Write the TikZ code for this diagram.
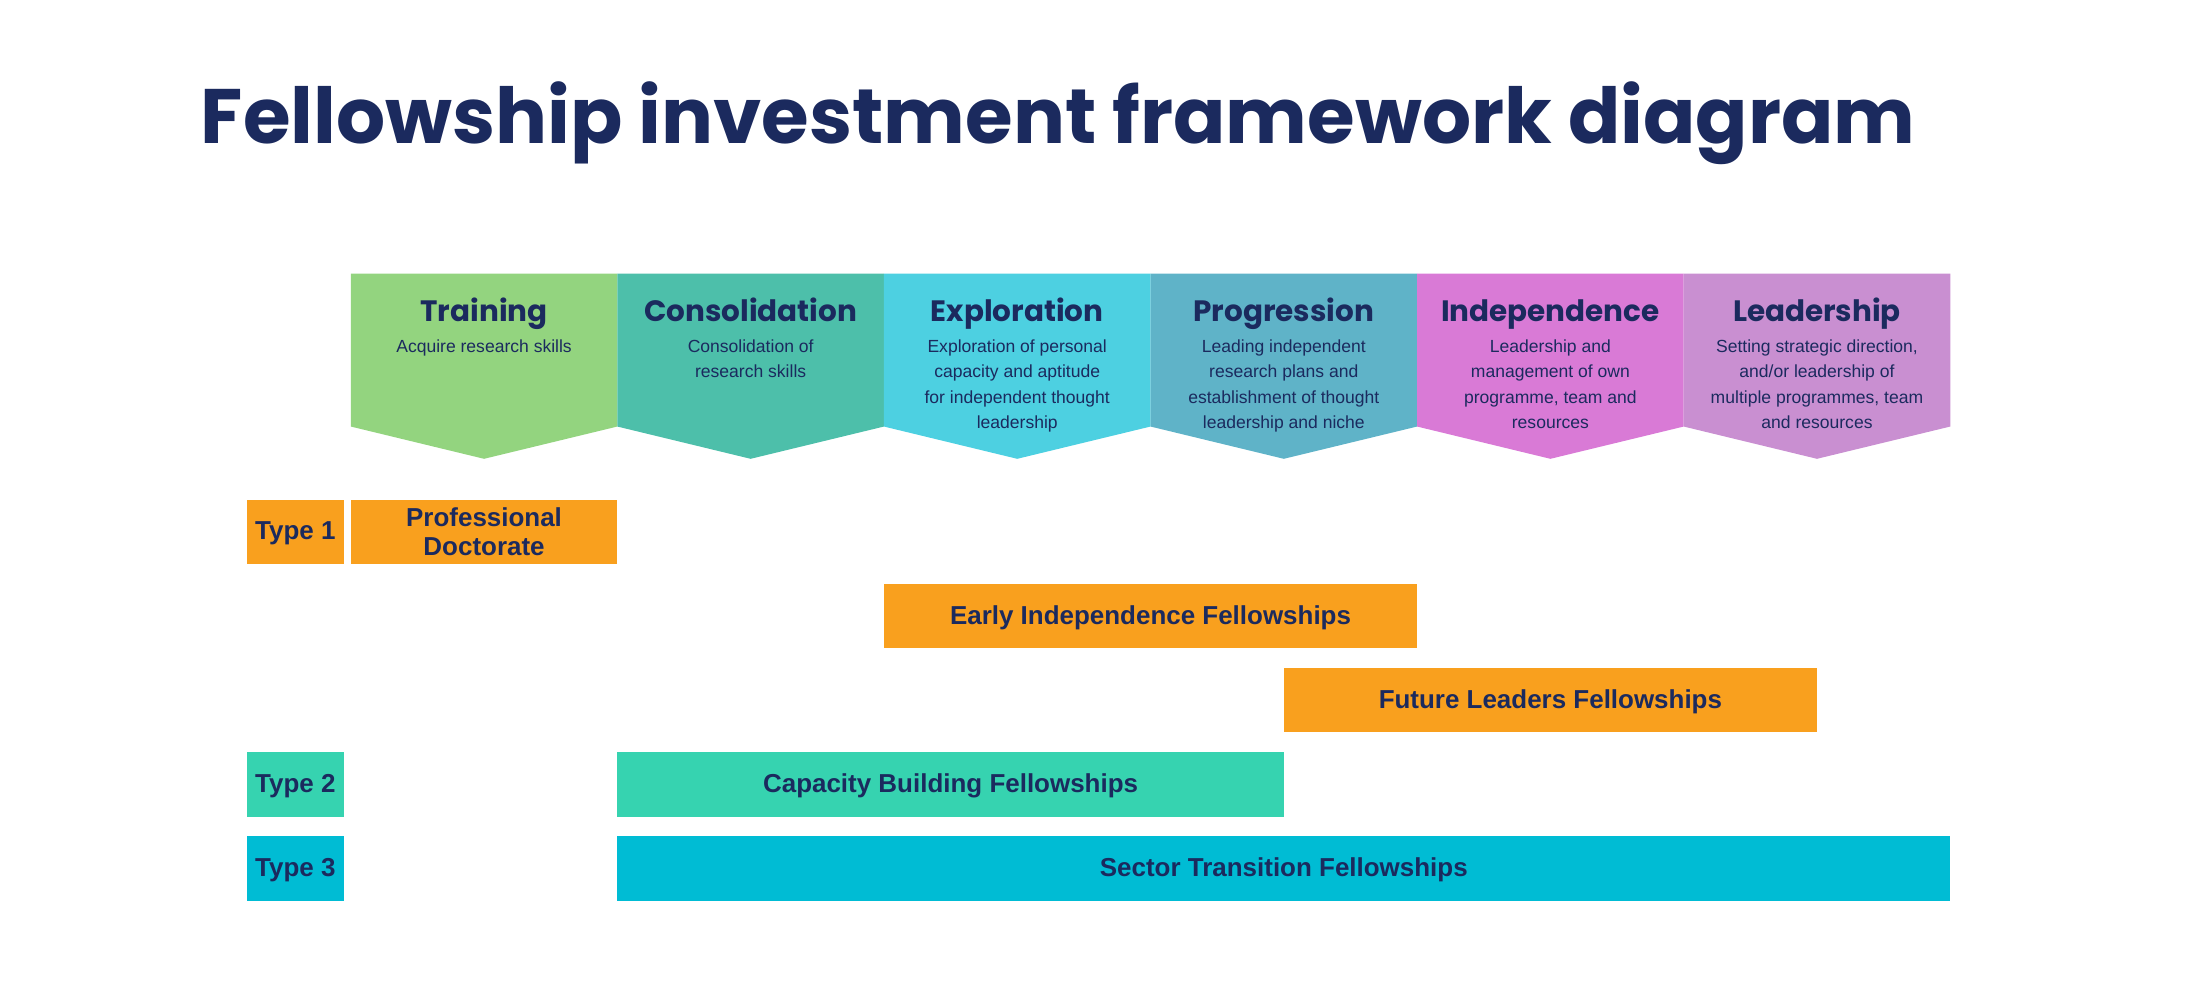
\documentclass[tikz,border=0pt]{standalone}
\usepackage{fontspec}
\setmainfont{Liberation Sans}
\newfontfamily\popp{Poppins}
\definecolor{navy}{HTML}{1B2A5E}
\definecolor{cTr}{HTML}{93D47F}
\definecolor{cCo}{HTML}{4DBFAA}
\definecolor{cEx}{HTML}{4DD0E1}
\definecolor{cPr}{HTML}{5FB3C8}
\definecolor{cIn}{HTML}{D97AD6}
\definecolor{cLe}{HTML}{C98FD1}
\definecolor{org}{HTML}{F9A01E}
\definecolor{tw}{HTML}{36D3B0}
\definecolor{tt}{HTML}{00BCD4}
\begin{document}
\begin{tikzpicture}[x=1pt,y=-1pt,
  stt/.style={text=navy,font=\popp\fontsize{21}{24}\selectfont\bfseries,anchor=base,inner sep=0pt},
  dsc/.style={text=navy,font=\fontsize{12.5}{18}\selectfont,align=center,anchor=north,inner sep=0pt},
  bar/.style={text=navy,font=\fontsize{18.5}{21}\selectfont\bfseries,align=center,inner sep=0pt,anchor=center}]
\useasboundingbox (0,0) rectangle (1568,713);
\node[text=navy,font=\popp\fontsize{55}{60}\selectfont\bfseries,anchor=base west,inner sep=0pt] (title) at (143,102) {Fellowship investment framework diagram};
\foreach \i/\c/\t/\d in {0/cTr/Training/{Acquire research skills},
  1/cCo/Consolidation/{Consolidation of\\research skills},
  2/cEx/Exploration/{Exploration of personal\\capacity and aptitude\\for independent thought\\leadership},
  3/cPr/Progression/{Leading independent\\research plans and\\establishment of thought\\leadership and niche},
  4/cIn/Independence/{Leadership and\\management of own\\programme, team and\\resources},
  5/cLe/Leadership/{Setting strategic direction,\\and/or leadership of\\multiple programmes, team\\and resources}}{
  \pgfmathsetmacro\xa{250+190*\i}
  \fill[\c] (\xa,195) -- (\xa+190,195) -- (\xa+190,304) -- (\xa+95,327) -- (\xa,304) -- cycle;
  \node[stt] (s\i) at (\xa+95,229) {\t};
  \node[dsc] (d\i) at (\xa+95,242) {\d};
}
\fill[org] (176,356) rectangle (245,402); \node[bar] (t1) at (210.5,380) {Type 1};
\fill[org] (250,356) rectangle (440,402); \node[bar] (pd) at (345,379) {Professional\\Doctorate};
\fill[org] (630,416) rectangle (1010,462); \node[bar] (ei) at (820,440) {Early Independence Fellowships};
\fill[org] (915,476) rectangle (1295,522); \node[bar] (fl) at (1105,500) {Future Leaders Fellowships};
\fill[tw] (176,536) rectangle (245,582); \node[bar] (t2) at (210.5,560) {Type 2};
\fill[tw] (440,536) rectangle (915,582); \node[bar] (cb) at (677.5,560) {Capacity Building Fellowships};
\fill[tt] (176,596) rectangle (245,642); \node[bar] (t3) at (210.5,620) {Type 3};
\fill[tt] (440,596) rectangle (1390,642); \node[bar] (st) at (915,620) {Sector Transition Fellowships};
\end{tikzpicture}
\end{document}
